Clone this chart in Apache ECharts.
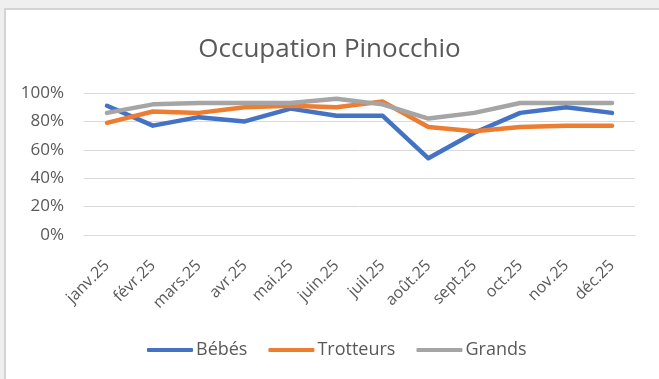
<!DOCTYPE html>
<html>
<head>
<meta charset="utf-8">
<script src="https://cdn.jsdelivr.net/npm/echarts@6/dist/echarts.min.js"></script>
<style>
  html, body { margin: 0; padding: 0; width: 659px; height: 379px; background: #efefef; overflow: hidden; }
  #frame { position: absolute; left: 4px; top: 8px; width: 655px; height: 371px; background: #fff;
           border-left: 2px solid #d4d4d4; border-top: 2px solid #d4d4d4; box-sizing: border-box; }
  #chart { position: absolute; left: 0; top: 0; width: 659px; height: 379px; }
</style>
</head>
<body>
<div id="frame"></div>
<div id="chart"></div>
<script>
const months = ['janv.25', 'févr.25', 'mars.25', 'avr.25', 'mai.25', 'juin.25',
                'juil.25', 'août.25', 'sept.25', 'oct.25', 'nov.25', 'déc.25'];
const bebes     = [0.91, 0.77, 0.83, 0.80, 0.89, 0.84, 0.84, 0.54, 0.72, 0.86, 0.90, 0.86];
const trotteurs = [0.79, 0.87, 0.86, 0.90, 0.91, 0.90, 0.94, 0.76, 0.73, 0.76, 0.77, 0.77];
const grands    = [0.86, 0.92, 0.93, 0.93, 0.93, 0.96, 0.92, 0.82, 0.86, 0.93, 0.93, 0.93];
const yTicks = [0, 0.2, 0.4, 0.6, 0.8, 1.0];

const font = '"Open Sans", "Noto Sans", sans-serif';
const textColor = '#595959';

const chart = echarts.init(document.getElementById('chart'), null, { renderer: 'canvas' });
const mkSeries = (name, data, color) => ({
  name, type: 'line', data, symbol: 'none', smooth: false,
  lineStyle: { width: 4.5, color, cap: 'round', join: 'round' },
  itemStyle: { color }
});
chart.setOption({
  animation: false,
  backgroundColor: 'transparent',
  title: {
    text: 'Occupation Pinocchio', left: 'center', top: 32,
    textStyle: { fontFamily: font, fontSize: 26, fontWeight: 'normal', color: textColor }
  },
  legend: {
    top: 336, left: 142, itemWidth: 46, itemHeight: 4, itemGap: 21,
    icon: 'roundRect',
    textStyle: { fontFamily: font, fontSize: 18, color: textColor, padding: [0, 0, 0, -2] },
    data: ['Bébés', 'Trotteurs', 'Grands']
  },
  grid: { left: 84, right: 24, top: 93, bottom: 144, containLabel: false },
  xAxis: {
    type: 'category', data: months, boundaryGap: true,
    axisLine: { show: true, lineStyle: { color: '#d9d9d9', width: 1 } },
    axisTick: { show: false },
    axisLabel: { rotate: 45, margin: 28, fontFamily: font, fontSize: 16, color: textColor, interval: 0 }
  },
  yAxis: {
    type: 'value', min: 0, max: 1, interval: 0.2,
    axisLine: { show: false }, axisTick: { show: false },
    splitLine: { lineStyle: { color: '#d9d9d9', width: 1 } },
    axisLabel: {
      margin: 20, fontFamily: font, fontSize: 17, color: textColor,
      formatter: v => yTicks.some(t => Math.abs(t - v) < 1e-9) ? Math.round(v * 100) + '%' : ''
    }
  },
  series: [
    mkSeries('Bébés', bebes, '#4472C4'),
    mkSeries('Trotteurs', trotteurs, '#ED7D31'),
    mkSeries('Grands', grands, '#A5A5A5')
  ]
});
</script>
</body>
</html>
